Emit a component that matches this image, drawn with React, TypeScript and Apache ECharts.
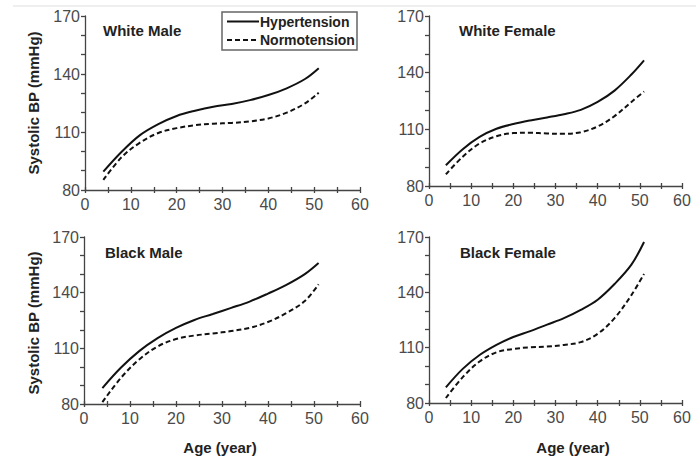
import React, { useEffect, useRef } from "react";
import * as echarts from "echarts";

const ages = [4, 8, 12, 16, 20, 24, 28, 32, 36, 40, 44, 48, 51];

const whiteMaleHyp = [89.5, 99.8, 108.4, 114.1, 118.3, 121, 123.1, 124.5, 126.5, 129.1, 132.6, 137.4, 143];
const whiteMaleNorm = [85.2, 97, 104.5, 109.5, 112, 113.5, 114.3, 114.7, 115.5, 117, 120, 124.8, 130.3];
const whiteFemaleHyp = [91, 99.5, 106, 110.3, 112.8, 114.7, 116.3, 118, 120.3, 124.5, 130.5, 139, 146.5];
const whiteFemaleNorm = [86.2, 95.5, 102.5, 106.3, 108, 108.2, 107.8, 107.6, 108.5, 111.5, 117, 124.5, 130];
const blackMaleHyp = [88.6, 99.5, 108.5, 115.5, 121, 125.3, 128.5, 131.8, 135.2, 139.5, 144.2, 150, 156];
const blackMaleNorm = [81, 94, 104, 111, 115, 116.9, 118, 119.3, 121, 124.2, 129, 135.5, 144.5];
const blackFemaleHyp = [88.5, 98.5, 106, 111.5, 115.8, 119, 122.5, 126, 130.5, 136, 144.5, 155, 167.3];
const blackFemaleNorm = [82.7, 94, 102.5, 107.5, 109.3, 110.2, 110.6, 111.5, 113, 117.5, 126, 138.5, 150];

const panelTitles = ["White Male", "White Female", "Black Male", "Black Female"];
const seriesNames = ["Hypertension", "Normotension"];
const panelData = [
  [whiteMaleHyp, whiteMaleNorm],
  [whiteFemaleHyp, whiteFemaleNorm],
  [blackMaleHyp, blackMaleNorm],
  [blackFemaleHyp, blackFemaleNorm],
];

const grids = [
  { left: 85, top: 16, width: 275, height: 174 },
  { left: 429, top: 16, width: 253, height: 170 },
  { left: 84, top: 237, width: 276, height: 167 },
  { left: 429, top: 237, width: 253, height: 166 },
];

const FONT = "'Liberation Sans', Arial, sans-serif";
const AXIS = "#444";
const LABEL = "#4a4a4a";
const DARK = "#222";

export default function App() {
  const ref = useRef<HTMLDivElement>(null);
  useEffect(() => {
    if (!ref.current) return;
    const chart = echarts.init(ref.current, null, { renderer: "svg" });

    const xAxes: any[] = [];
    const yAxes: any[] = [];
    const series: any[] = [];
    grids.forEach((g, i) => {
      xAxes.push({
        type: "value",
        gridIndex: i,
        min: 0,
        max: 60,
        interval: 10,
        axisLine: { show: true, onZero: false, lineStyle: { color: AXIS, width: 1.3 } },
        axisTick: { show: true, inside: false, length: 3, lineStyle: { color: AXIS, width: 1.3 } },
        minorTick: { show: true, splitNumber: 2, length: 3, lineStyle: { color: AXIS, width: 1.3 } },
        splitLine: { show: false },
        axisLabel: { color: LABEL, fontSize: 16, fontFamily: FONT, margin: 6 },
      });
      xAxes.push({
        type: "value",
        gridIndex: i,
        position: "bottom",
        min: 0,
        max: 60,
        interval: 10,
        axisLine: { show: false, onZero: false },
        axisTick: { show: true, inside: true, length: 3, lineStyle: { color: AXIS, width: 1.3 } },
        minorTick: { show: true, splitNumber: 2, length: 3, lineStyle: { color: AXIS, width: 1.3 } },
        splitLine: { show: false },
        axisLabel: { show: false },
      });
      yAxes.push({
        type: "value",
        gridIndex: i,
        min: 80,
        max: 170,
        interval: 30,
        axisLine: { show: true, onZero: false, lineStyle: { color: AXIS, width: 1.3 } },
        axisTick: { show: true, inside: false, length: 4, lineStyle: { color: AXIS, width: 1.3 } },
        minorTick: { show: true, splitNumber: 3, length: 4, lineStyle: { color: AXIS, width: 1.3 } },
        splitLine: { show: false },
        axisLabel: { color: LABEL, fontSize: 16, fontFamily: FONT, margin: 5 },
      });
      panelData[i].forEach((vals, k) => {
        series.push({
          type: "line",
          name: seriesNames[k],
          xAxisIndex: 2 * i,
          yAxisIndex: i,
          data: ages.map((a, j) => [a, vals[j]]),
          smooth: 0.35,
          showSymbol: false,
          symbol: "none",
          lineStyle: {
            color: "#111",
            width: 2,
            type: k === 0 ? "solid" : [5, 3],
          },
          itemStyle: { color: "#111" },
        });
      });
    });

    const titlePos = [
      [103, 30],
      [459, 30],
      [105, 252],
      [460, 252],
    ];

    const graphic: any[] = [
      {
        type: "line",
        shape: { x1: 13, y1: 6, x2: 696, y2: 6 },
        style: { stroke: "#dedede", lineWidth: 1 },
        silent: true,
      },
      {
        type: "rect",
        shape: { x: 222, y: 12, width: 135, height: 38 },
        style: { fill: "#fff", stroke: "#666", lineWidth: 1.5 },
        z: 10,
      },
    ];
    seriesNames.forEach((name, k) => {
      const cy = k === 0 ? 21.5 : 40;
      graphic.push({
        type: "line",
        shape: { x1: 227, y1: cy, x2: 259, y2: cy },
        style: { stroke: "#111", lineWidth: 2, lineDash: k === 0 ? null : [5, 3] },
        z: 11,
      });
      graphic.push({
        type: "text",
        x: 260,
        y: cy,
        style: {
          text: name,
          font: `bold 14px ${FONT}`,
          fill: DARK,
          textAlign: "left",
          textVerticalAlign: "middle",
        },
        z: 11,
      });
    });
    panelTitles.forEach((t, i) => {
      graphic.push({
        type: "text",
        x: titlePos[i][0],
        y: titlePos[i][1],
        style: {
          text: t,
          font: `bold 15px ${FONT}`,
          fill: DARK,
          textAlign: "left",
          textVerticalAlign: "middle",
        },
      });
    });
    [103, 323].forEach((cy) => {
      graphic.push({
        type: "text",
        x: 33,
        y: cy,
        rotation: Math.PI / 2,
        style: {
          text: "Systolic BP (mmHg)",
          font: `bold 15px ${FONT}`,
          fill: DARK,
          textAlign: "center",
          textVerticalAlign: "middle",
        },
      });
    });
    [220, 573].forEach((cx) => {
      graphic.push({
        type: "text",
        x: cx,
        y: 447,
        style: {
          text: "Age (year)",
          font: `bold 15px ${FONT}`,
          fill: DARK,
          textAlign: "center",
          textVerticalAlign: "middle",
        },
      });
    });

    chart.setOption({
      animation: false,
      backgroundColor: "#fff",
      grid: grids.map((g) => ({ ...g, containLabel: false })),
      xAxis: xAxes,
      yAxis: yAxes,
      series,
      graphic,
    });
    return () => chart.dispose();
  }, []);
  return <div ref={ref} style={{ width: 696, height: 456, position: "absolute", left: 0, top: 0 }} />;
}
